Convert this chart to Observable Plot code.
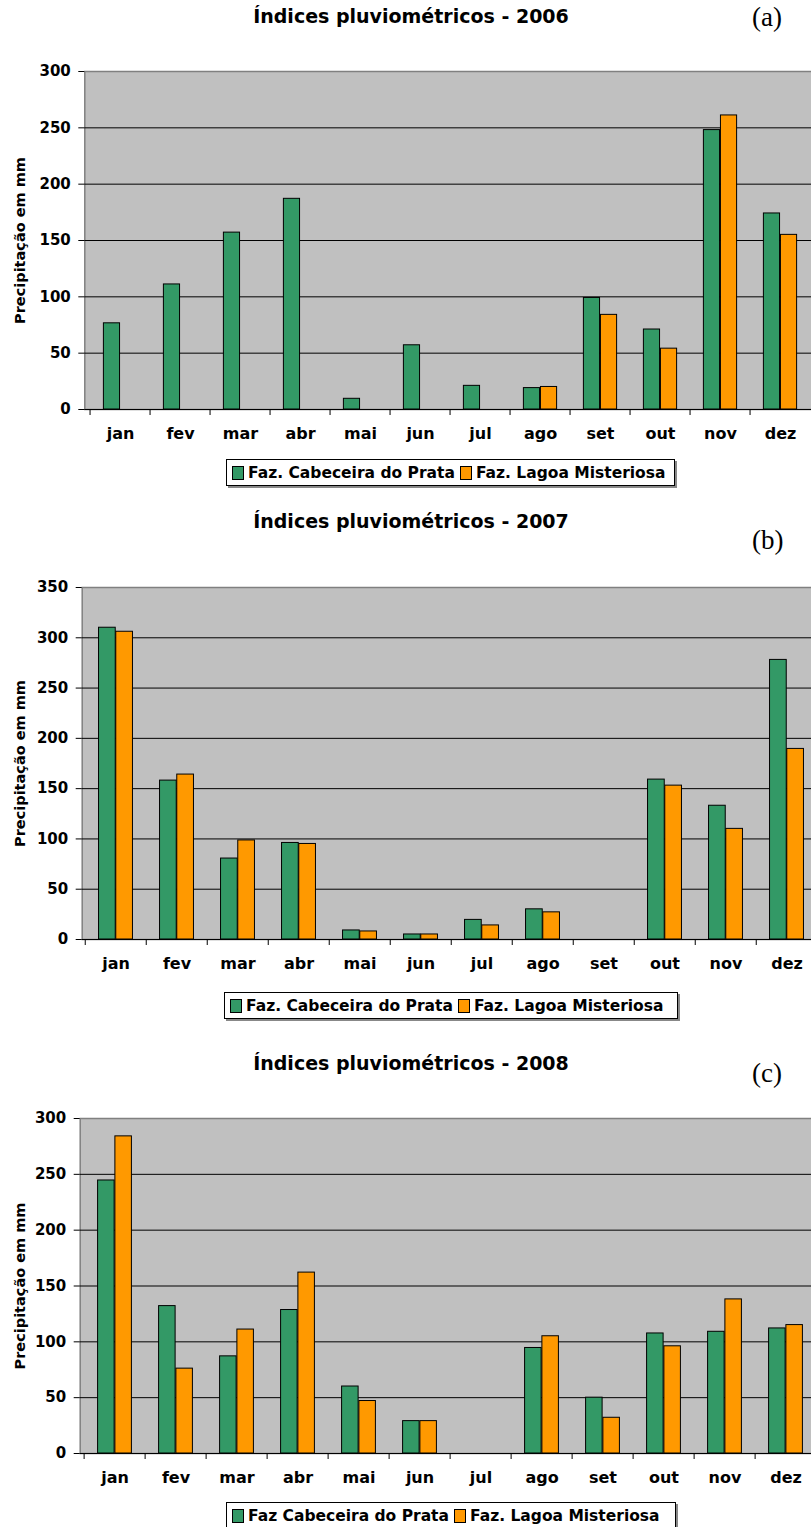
<!DOCTYPE html>
<html><head><meta charset="utf-8">
<script src="https://cdn.jsdelivr.net/npm/d3@7"></script>
<script src="https://cdn.jsdelivr.net/npm/@observablehq/plot@0.6"></script>
<style>
html,body{margin:0;padding:0;background:#fff;overflow:hidden;width:811px;height:1527px;}
#root{position:relative;width:811px;height:1527px;overflow:hidden;}
.title{position:absolute;left:0;width:822px;height:30px;line-height:30px;text-align:center;font:bold 19px "DejaVu Sans";color:#000;}
.tag{position:absolute;left:752px;height:40px;line-height:40px;font:27px "Liberation Serif";color:#000;}
.chart{position:absolute;left:0;}
.legend{position:absolute;border:1px solid #000;box-shadow:2px 2px 0 #888;display:flex;align-items:center;font:bold 15.5px "DejaVu Sans";box-sizing:border-box;background:#fff;white-space:nowrap;}
.sw{display:inline-block;width:10px;height:12px;border:1px solid #000;margin:0 4px 0 5px;flex:none;}
</style>
</head><body><div id="root"></div>
<script>
const months = ["jan","fev","mar","abr","mai","jun","jul","ago","set","out","nov","dez"];
const titles = ["Índices pluviométricos - 2006","Índices pluviométricos - 2007","Índices pluviométricos - 2008"];
const tags = ["(a)","(b)","(c)"];
const legendNames2006 = ["Faz. Cabeceira do Prata","Faz. Lagoa Misteriosa"];
const legendNames2007 = ["Faz. Cabeceira do Prata","Faz. Lagoa Misteriosa"];
const legendNames2008 = ["Faz Cabeceira do Prata","Faz. Lagoa Misteriosa"];
const cabeceira2006 = [76.5,111,157,187,9.5,57,21,19,99,71,248,174];
const lagoa2006     = [null,null,null,null,null,null,null,20,84,54,261,155];
const cabeceira2007 = [310,158,80.5,96,9,5,19.5,30,null,159,133,278];
const lagoa2007     = [306,164,98.5,95,8,5,14,27,null,153,110,189.5];
const cabeceira2008 = [244.5,132,87,128.5,60,29,null,94.5,50,107.5,109,112];
const lagoa2008     = [284,76,111,162,47,29,null,105,32,96,138,115];
const yTicks2006 = [0,50,100,150,200,250,300];
const yTicks2007 = [0,50,100,150,200,250,300,350];
const yTicks2008 = [0,50,100,150,200,250,300];
const yLabel = "Precipitação em mm";

const GREEN = "#339966", ORANGE = "#ff9900";
const root = document.getElementById("root");

function addChart(cfg) {
  const W = 811;
  const {green, orange, ticks, ml, mr, plotH, svgTop, titleY, tagY, legend, names} = cfg;
  const yMax = ticks[ticks.length - 1];
  const bw = (W - ml - mr) / months.length;
  const rows = months.map((m, i) => ({m, a: green[i], b: orange[i]}));
  const t = document.createElement("div");
  t.className = "title"; t.style.top = (titleY - 15) + "px"; t.textContent = cfg.title;
  root.appendChild(t);
  const g = document.createElement("div");
  g.className = "tag"; g.style.top = (tagY - 20) + "px"; g.textContent = cfg.tag;
  root.appendChild(g);

  const plot = Plot.plot({
    width: W, height: 10 + plotH + 45,
    marginTop: 10, marginBottom: 45, marginLeft: ml, marginRight: mr,
    style: {fontFamily: "DejaVu Sans", fontWeight: "bold", fontSize: "14px", color: "#000", background: "transparent", overflow: "visible"},
    x: {type: "band", domain: months, padding: 0, axis: null},
    y: {domain: [0, yMax], axis: null},
    marks: [
      Plot.frame({fill: "#c0c0c0", stroke: "#808080", strokeWidth: 1.5}),
      Plot.ruleY(ticks.filter(v => v > 0 && v < yMax), {stroke: "#000", strokeWidth: 1}),
      Plot.ruleY([0], {stroke: "#000", strokeWidth: 1}),
      Plot.barY(rows.filter(d => d.a != null), {x: "m", y: "a", fill: GREEN, stroke: "#000", strokeWidth: 1, insetLeft: bw * 0.22, insetRight: bw * 0.5}),
      Plot.barY(rows.filter(d => d.b != null), {x: "m", y: "b", fill: ORANGE, stroke: "#000", strokeWidth: 1, insetLeft: bw * 0.5, insetRight: bw * 0.22}),
      Plot.axisY({ticks, tickSize: 6, tickPadding: 8, tickFormat: d => String(d), fontSize: 15, fontWeight: "bold", label: null, stroke: "#000"}),
      Plot.axisX({ticks: months, tickSize: 6, dx: -bw / 2, tickFormat: () => "", label: null, stroke: "#000"}),
      Plot.axisX({ticks: months, tickSize: 0, tickPadding: 18, fontSize: 16, fontWeight: "bold", label: null}),
      Plot.text([yLabel], {frameAnchor: "left", textAnchor: "middle", rotate: -90, dx: 20 - ml, fontSize: 14.5, fontWeight: "bold"})
    ]
  });
  const c = document.createElement("div");
  c.className = "chart"; c.style.top = svgTop + "px";
  c.appendChild(plot);
  root.appendChild(c);

  const L = document.createElement("div");
  L.className = "legend";
  Object.assign(L.style, {left: legend[0] + "px", top: legend[1] + "px", width: legend[2] + "px", height: legend[3] + "px"});
  [[GREEN, names[0]], [ORANGE, names[1]]].forEach(([col, nm]) => {
    const s = document.createElement("span"); s.className = "sw"; s.style.background = col;
    const tx = document.createElement("span"); tx.textContent = nm;
    L.appendChild(s); L.appendChild(tx);
  });
  root.appendChild(L);
}

addChart({title: titles[0], tag: tags[0], green: cabeceira2006, orange: lagoa2006, ticks: yTicks2006,
  ml: 84.3, mr: -4, plotH: 338, svgTop: 61, titleY: 20, tagY: 22, legend: [226, 459, 449, 27], names: legendNames2006});
addChart({title: titles[1], tag: tags[1], green: cabeceira2007, orange: lagoa2007, ticks: yTicks2007,
  ml: 81.7, mr: -9, plotH: 352, svgTop: 577, titleY: 525, tagY: 545, legend: [224, 992, 454, 27], names: legendNames2007});
addChart({title: titles[2], tag: tags[2], green: cabeceira2008, orange: lagoa2008, ticks: yTicks2008,
  ml: 79.7, mr: -10, plotH: 335, svgTop: 1108, titleY: 1067, tagY: 1078, legend: [226, 1502, 450, 27], names: legendNames2008});
</script>
</body></html>
